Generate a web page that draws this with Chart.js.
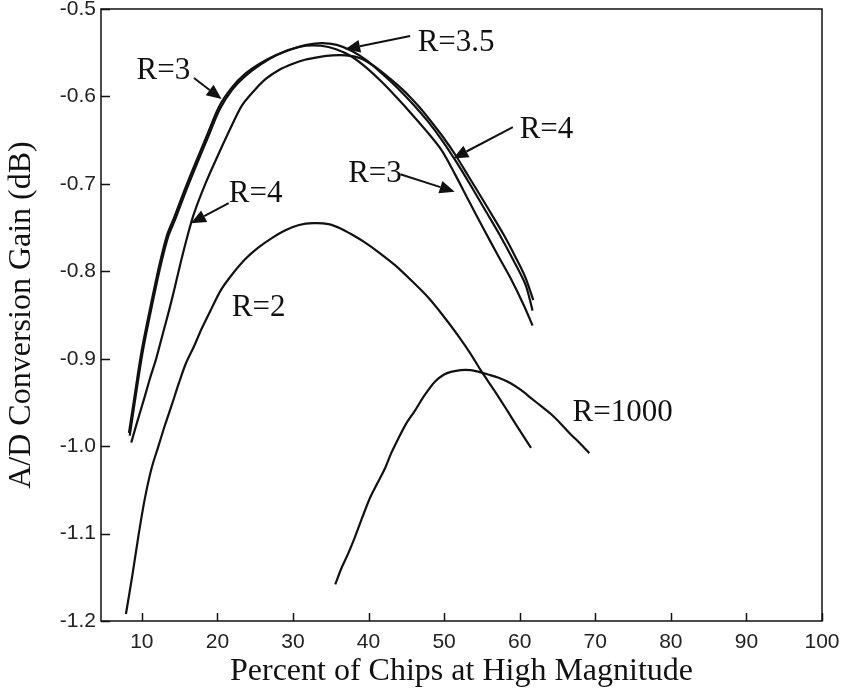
<!DOCTYPE html>
<html>
<head>
<meta charset="utf-8">
<script src="https://cdn.jsdelivr.net/npm/chart.js@4/dist/chart.umd.min.js"></script>
<style>
  html, body { margin: 0; padding: 0; background: #ffffff; }
  #wrap { width: 845px; height: 692px; }
</style>
</head>
<body>
<div id="wrap"><canvas id="c" width="845" height="692"></canvas></div>
<script>
// ---- tick labels ----
const xTickValues = [10, 20, 30, 40, 50, 60, 70, 80, 90, 100];
const yTickValues = [-1.2, -1.1, -1.0, -0.9, -0.8, -0.7, -0.6, -0.5];

// ---- series (x = percent of chips at high magnitude, y = gain dB) ----
const r3X = [8.3, 9.0, 10.0, 11.3, 12.4, 13.4, 14.3, 15.7, 17.1, 18.6, 20.2, 21.9, 23.7, 25.7, 27.7, 29.7, 31.7, 33.7, 35.7, 37.7, 39.7, 41.7, 43.7, 45.7, 47.7, 49.7, 51.5, 53.3, 55.2, 57.0, 58.8, 60.5, 61.7];
const r3Y = [-0.985, -0.945, -0.890, -0.834, -0.790, -0.757, -0.738, -0.706, -0.676, -0.645, -0.612, -0.590, -0.574, -0.562, -0.553, -0.546, -0.542, -0.542, -0.546, -0.554, -0.567, -0.583, -0.601, -0.620, -0.640, -0.662, -0.690, -0.720, -0.751, -0.780, -0.808, -0.838, -0.862];

const r35X = [8.4, 9.1, 10.1, 11.4, 12.5, 13.5, 14.4, 15.8, 17.2, 18.7, 20.3, 22.0, 23.8, 25.8, 27.8, 29.8, 31.8, 33.8, 35.8, 37.8, 39.8, 41.8, 43.8, 45.8, 47.8, 49.8, 51.7, 53.6, 55.5, 57.4, 59.2, 60.8, 61.7];
const r35Y = [-0.988, -0.948, -0.893, -0.837, -0.793, -0.760, -0.741, -0.709, -0.679, -0.648, -0.615, -0.592, -0.576, -0.563, -0.553, -0.546, -0.541, -0.539, -0.541, -0.548, -0.559, -0.574, -0.590, -0.608, -0.628, -0.651, -0.676, -0.703, -0.731, -0.759, -0.788, -0.816, -0.845];

const r4X = [8.6, 9.4, 10.3, 11.1, 11.9, 12.7, 13.6, 14.4, 15.2, 16.0, 16.9, 18.5, 20.2, 21.7, 23.2, 24.8, 26.4, 28.1, 29.9, 31.6, 33.4, 35.2, 37.0, 38.8, 40.5, 42.2, 43.7, 45.2, 46.8, 48.3, 49.9, 51.5, 53.2, 54.9, 56.5, 58.0, 59.4, 60.7, 61.8];
const r4Y = [-0.996, -0.972, -0.946, -0.922, -0.900, -0.874, -0.845, -0.817, -0.788, -0.761, -0.734, -0.698, -0.665, -0.637, -0.611, -0.594, -0.580, -0.570, -0.563, -0.558, -0.555, -0.553, -0.553, -0.556, -0.564, -0.575, -0.586, -0.598, -0.613, -0.629, -0.647, -0.667, -0.691, -0.715, -0.738, -0.760, -0.783, -0.806, -0.833];

const r2X = [7.9, 8.8, 9.6, 10.4, 11.3, 12.2, 13.1, 14.0, 14.9, 15.8, 16.9, 17.9, 19.2, 20.5, 22.1, 23.7, 25.4, 27.2, 29.0, 30.8, 32.7, 34.7, 36.3, 37.8, 39.5, 41.3, 43.5, 45.6, 47.9, 49.8, 51.8, 53.4, 54.9, 56.7, 58.4, 60.0, 61.5];
const r2Y = [-1.192, -1.145, -1.100, -1.060, -1.025, -1.000, -0.975, -0.952, -0.928, -0.906, -0.886, -0.866, -0.843, -0.821, -0.802, -0.786, -0.773, -0.762, -0.753, -0.747, -0.745, -0.746, -0.751, -0.758, -0.767, -0.778, -0.793, -0.810, -0.830, -0.850, -0.873, -0.893, -0.914, -0.937, -0.960, -0.982, -1.002];

const r1000X = [35.6, 36.4, 37.3, 38.2, 39.2, 40.2, 41.2, 42.2, 43.0, 43.9, 45.0, 46.1, 47.4, 48.8, 50.0, 50.9, 52.2, 53.5, 54.6, 55.8, 57.3, 58.8, 60.2, 61.5, 62.8, 64.1, 65.4, 66.7, 68.0, 69.2];
const r1000Y = [-1.158, -1.140, -1.123, -1.104, -1.081, -1.059, -1.042, -1.025, -1.008, -0.992, -0.974, -0.960, -0.942, -0.926, -0.918, -0.915, -0.913, -0.913, -0.915, -0.918, -0.922, -0.928, -0.936, -0.945, -0.954, -0.963, -0.974, -0.986, -0.997, -1.008];

// ---- curve labels (in data units) ----
const labelTexts = ['R=3.5', 'R=4', 'R=3', 'R=3', 'R=4', 'R=2', 'R=1000'];
const labelX = [46.5, 60.0, 37.3, 9.3, 21.5, 21.9, 67.0];
const labelY = [-0.539, -0.638, -0.688, -0.571, -0.712, -0.842, -0.962];
// arrows: from (tail) -> to (tip), data units
const arrowFromX = [45.5, 59.1, 44.2, 16.9, 21.5];
const arrowFromY = [-0.531, -0.635, -0.689, -0.579, -0.722];
const arrowToX = [36.9, 51.2, 51.4, 20.55, 16.5];
const arrowToY = [-0.546, -0.671, -0.709, -0.603, -0.745];

const xTitle = 'Percent of Chips at High Magnitude';
const yTitle = 'A/D Conversion Gain (dB)';

function pts(xs, ys) { return xs.map((x, i) => ({ x: x, y: ys[i] })); }
function ds(label, xs, ys) {
  return {
    label: label,
    data: pts(xs, ys),
    borderColor: '#111111',
    backgroundColor: '#111111',
    borderWidth: 2.2,
    pointRadius: 0,
    tension: 0.3,
    fill: false
  };
}

const serif = '"Liberation Serif", "Times New Roman", serif';
const sans = '"Liberation Sans", Arial, sans-serif';

const framePlugin = {
  id: 'frame',
  afterDatasetsDraw(chart) {
    const ctx = chart.ctx;
    const a = chart.chartArea;
    const xs = chart.scales.x, ys = chart.scales.y;
    ctx.save();
    // box
    ctx.strokeStyle = '#111111';
    ctx.lineWidth = 1.5;
    ctx.strokeRect(a.left, a.top, a.right - a.left, a.bottom - a.top);
    // inward ticks
    ctx.lineWidth = 1.5;
    ctx.beginPath();
    xTickValues.forEach(v => {
      const px = Math.round(xs.getPixelForValue(v)) + 0.5;
      ctx.moveTo(px, a.bottom);
      ctx.lineTo(px, a.bottom - 8);
    });
    yTickValues.forEach(v => {
      const py = Math.round(ys.getPixelForValue(v)) + 0.5;
      ctx.moveTo(a.left, py);
      ctx.lineTo(a.left + 9, py);
    });
    ctx.stroke();

    // labels
    ctx.fillStyle = '#111111';
    ctx.font = '31px ' + serif;
    ctx.textAlign = 'left';
    ctx.textBaseline = 'middle';
    labelTexts.forEach((t, i) => {
      ctx.fillText(t, xs.getPixelForValue(labelX[i]), ys.getPixelForValue(labelY[i]));
    });
    // arrows
    ctx.strokeStyle = '#111111';
    ctx.lineWidth = 2;
    arrowFromX.forEach((fx, i) => {
      const x1 = xs.getPixelForValue(fx), y1 = ys.getPixelForValue(arrowFromY[i]);
      const x2 = xs.getPixelForValue(arrowToX[i]), y2 = ys.getPixelForValue(arrowToY[i]);
      const ang = Math.atan2(y2 - y1, x2 - x1);
      const hl = 15, hw = 6.5;
      const bx = x2 - hl * Math.cos(ang), by = y2 - hl * Math.sin(ang);
      ctx.beginPath();
      ctx.moveTo(x1, y1);
      ctx.lineTo(bx, by);
      ctx.stroke();
      ctx.beginPath();
      ctx.moveTo(x2, y2);
      ctx.lineTo(bx + hw * Math.sin(ang), by - hw * Math.cos(ang));
      ctx.lineTo(bx - hw * Math.sin(ang), by + hw * Math.cos(ang));
      ctx.closePath();
      ctx.fill();
    });
    ctx.restore();
  }
};

new Chart(document.getElementById('c'), {
  type: 'line',
  data: {
    datasets: [
      ds('R=3', r3X, r3Y),
      ds('R=3.5', r35X, r35Y),
      ds('R=4', r4X, r4Y),
      ds('R=2', r2X, r2Y),
      ds('R=1000', r1000X, r1000Y)
    ]
  },
  options: {
    responsive: false,
    animation: false,
    devicePixelRatio: 1,
    layout: { padding: { left: 0, right: 23, top: 9, bottom: 0 } },
    plugins: { legend: { display: false }, tooltip: { enabled: false } },
    scales: {
      x: {
        type: 'linear',
        min: 4.6,
        max: 100,
        afterBuildTicks(scale) { scale.ticks = xTickValues.map(v => ({ value: v })); },
        afterFit(scale) { scale.height = 71; scale.paddingLeft = 0; scale.paddingRight = 0; },
        grid: { display: false, drawTicks: false },
        border: { display: false },
        ticks: {
          padding: 9,
          color: '#222222',
          font: { family: sans, size: 21 },
          maxRotation: 0,
          autoSkip: false,
          callback: v => String(v)
        },
        title: {
          display: true,
          text: xTitle,
          color: '#111111',
          font: { family: serif, size: 32, lineHeight: 1.25 },
          padding: { top: 0, bottom: 0 }
        }
      },
      y: {
        type: 'linear',
        min: -1.2,
        max: -0.5,
        afterBuildTicks(scale) { scale.ticks = yTickValues.map(v => ({ value: v })); },
        afterFit(scale) { scale.width = 101; scale.paddingTop = 0; scale.paddingBottom = 0; },
        grid: { display: false, drawTicks: false },
        border: { display: false },
        ticks: {
          padding: 5,
          color: '#222222',
          font: { family: sans, size: 21 },
          autoSkip: false,
          callback: v => Number(v).toFixed(1)
        },
        title: {
          display: true,
          text: yTitle,
          color: '#111111',
          font: { family: serif, size: 32, lineHeight: 1.25 },
          padding: { top: 2, bottom: 0 }
        }
      }
    }
  },
  plugins: [framePlugin]
});
</script>
</body>
</html>
